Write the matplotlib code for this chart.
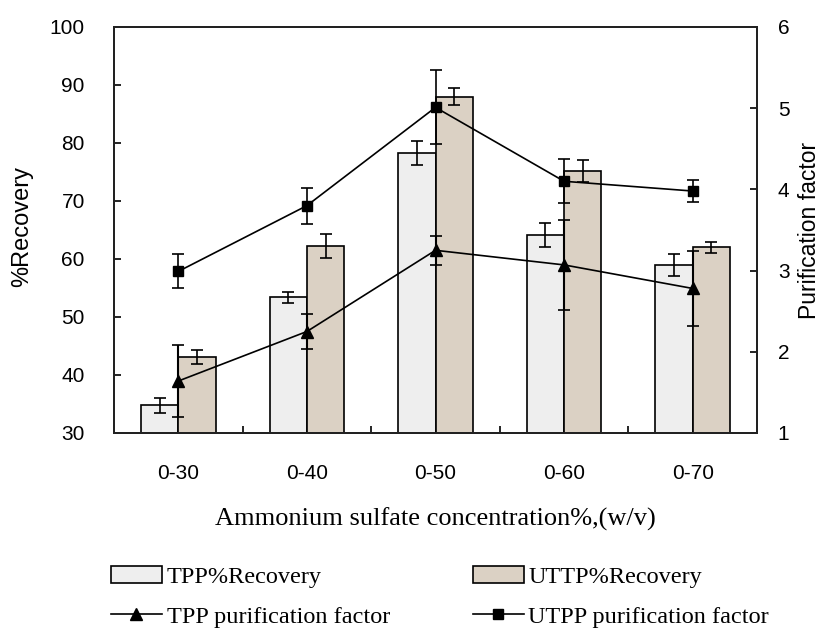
import matplotlib
matplotlib.use("Agg")
import matplotlib.pyplot as plt
import numpy as np
from matplotlib.patches import Patch
from matplotlib.lines import Line2D

categories = ["0-30", "0-40", "0-50", "0-60", "0-70"]
tpp_rec = [34.8, 53.4, 78.3, 64.1, 59.0]
tpp_rec_err = [1.3, 0.95, 2.1, 2.1, 1.9]
uttp_rec = [43.1, 62.2, 88.0, 75.2, 62.0]
uttp_rec_err = [1.15, 2.1, 1.5, 1.95, 1.0]
tpp_pf = [1.64, 2.25, 3.25, 3.07, 2.78]
tpp_pf_err = [0.44, 0.22, 0.18, 0.55, 0.46]
utpp_pf = [2.99, 3.80, 5.01, 4.10, 3.98]
utpp_pf_err = [0.21, 0.22, 0.455, 0.27, 0.13]

left_ticks = [30, 40, 50, 60, 70, 80, 90, 100]
right_ticks = [1, 2, 3, 4, 5, 6]

serif = ["Liberation Serif", "DejaVu Serif"]
sans = ["Liberation Sans", "DejaVu Sans"]

fig = plt.figure(figsize=(8.27, 6.30), dpi=100)
ax = fig.add_axes([114/827, 1 - 433/630, (757-114)/827, (433-27)/630])
ax2 = ax.twinx()

x = np.arange(len(categories))
w = 0.29
bar_col1 = "#eeeeee"
bar_col2 = "#dbd1c4"

ax.bar(x - w/2, tpp_rec, width=w, color=bar_col1, edgecolor="black", linewidth=1.2, zorder=2)
ax.bar(x + w/2, uttp_rec, width=w, color=bar_col2, edgecolor="black", linewidth=1.2, zorder=2)
ax.errorbar(x - w/2, tpp_rec, yerr=tpp_rec_err, fmt="none", ecolor="black", elinewidth=1.2, capsize=4.5, capthick=1.2, zorder=3)
ax.errorbar(x + w/2, uttp_rec, yerr=uttp_rec_err, fmt="none", ecolor="black", elinewidth=1.2, capsize=4.5, capthick=1.2, zorder=3)

ax2.errorbar(x, tpp_pf, yerr=tpp_pf_err, color="black", marker="^", markersize=8.5, linewidth=1.2,
             elinewidth=1.5, capsize=4.5, capthick=1.2)
ax2.errorbar(x, utpp_pf, yerr=utpp_pf_err, color="black", marker="s", markersize=7.5, linewidth=1.2,
             elinewidth=1.2, capsize=4.5, capthick=1.2)

ax.set_xlim(-0.5, len(categories) - 0.5)
ax.set_ylim(30, 100)
ax2.set_ylim(1, 6)
ax.set_yticks(left_ticks)
ax2.set_yticks(right_ticks)

ax.set_xticks(x[:-1] + 0.5)
ax.set_xticklabels([])
ax.set_xticks(x, minor=True)
ax.set_xticklabels(categories, minor=True, fontfamily=sans, fontsize=15)
ax.tick_params(axis="x", which="minor", length=0, pad=22)
ax.tick_params(axis="x", which="major", direction="in", length=5, width=1.2)
ax.tick_params(axis="y", direction="in", length=5, width=1.2, pad=21, labelsize=15)
ax2.tick_params(axis="y", direction="in", length=5, width=1.2, pad=15, labelsize=15)
for lab in ax.get_yticklabels() + ax2.get_yticklabels():
    lab.set_fontfamily(sans)

for a in (ax, ax2):
    for s in a.spines.values():
        s.set_linewidth(1.4)
        s.set_color("#222222")

fig.text(22/827, 1 - 226/630, "%Recovery", rotation=90, ha="center", va="center",
         fontfamily=sans, fontsize=17)
fig.text(809/827, 1 - 230/630, "Purification factor", rotation=90, ha="center", va="center",
         fontfamily=sans, fontsize=16.5)
fig.text(435/827, 1 - 519/630, "Ammonium sulfate concentration%,(w/v)", ha="center", va="center",
         fontfamily=serif, fontsize=19)

handles = [
    Patch(facecolor=bar_col1, edgecolor="black", linewidth=1.2),
    Line2D([0], [0], color="black", marker="^", markersize=8, linewidth=1.2),
    Patch(facecolor=bar_col2, edgecolor="black", linewidth=1.2),
    Line2D([0], [0], color="black", marker="s", markersize=7, linewidth=1.2),
]
labels = ["TPP%Recovery", "TPP purification factor", "UTTP%Recovery", "UTPP purification factor"]
fig.legend(handles, labels, ncol=2, loc="upper left", bbox_to_anchor=(101/827, 1 - 556/630),
           frameon=False, prop={"family": serif, "size": 17.5}, handlelength=2.1,
           handletextpad=0.2, columnspacing=3.4, labelspacing=0.75, borderaxespad=0)

fig.savefig("out.png", dpi=100)
